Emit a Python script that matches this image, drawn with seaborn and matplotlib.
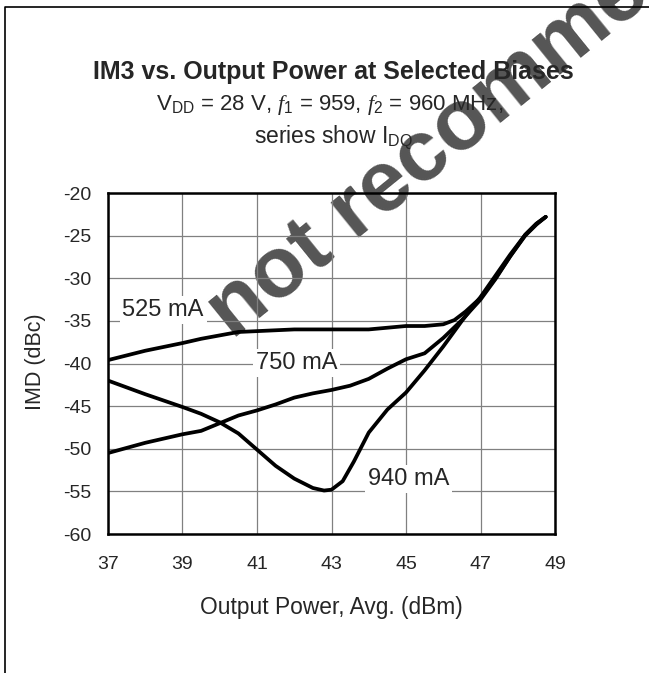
import numpy as np
import pandas as pd
import seaborn as sns
import matplotlib.pyplot as plt
from matplotlib.lines import Line2D

# IMD vs output power, one list per quiescent drain current
pout_525 = [37.0, 38.0, 39.0, 39.5, 40.0, 40.5, 41.0, 42.0, 43.0, 44.0, 44.5, 45.0,
            45.5, 46.0, 46.3, 46.6, 47.0, 47.4, 47.8, 48.2, 48.5, 48.75]
imd_525 = [-39.6, -38.5, -37.6, -37.1, -36.7, -36.3, -36.2, -36.0, -36.0, -36.0, -35.8, -35.6,
           -35.6, -35.4, -34.9, -33.9, -32.3, -30.0, -27.4, -24.9, -23.6, -22.8]

pout_750 = [37.0, 38.0, 39.0, 39.5, 40.0, 40.5, 41.0, 41.5, 42.0, 42.5, 43.0, 43.5,
            44.0, 44.5, 45.0, 45.5, 46.0, 46.5, 47.0, 47.4, 47.8, 48.2, 48.5, 48.75]
imd_750 = [-50.5, -49.3, -48.3, -47.9, -47.0, -46.1, -45.5, -44.8, -44.0, -43.5, -43.1, -42.6,
           -41.8, -40.6, -39.5, -38.8, -37.0, -34.9, -32.5, -30.1, -27.4, -25.0, -23.7, -22.8]

pout_940 = [37.0, 38.0, 39.0, 39.5, 40.0, 40.5, 41.0, 41.5, 42.0, 42.5, 42.8, 43.0, 43.3,
            43.6, 44.0, 44.5, 45.0, 45.5, 46.0, 46.5, 47.0, 47.4, 47.8, 48.2, 48.5, 48.75]
imd_940 = [-42.0, -43.6, -45.1, -45.9, -46.9, -48.2, -50.1, -52.0, -53.5, -54.6, -54.9, -54.8, -53.8,
           -51.5, -48.1, -45.4, -43.4, -40.8, -38.0, -35.0, -32.2, -29.7, -27.2, -24.9, -23.6, -22.8]

series_names = ["525 mA", "750 mA", "940 mA"]
label_x = [38.48, 42.06, 45.07]
label_y = [-33.7, -39.9, -53.55]

x_ticks = [37, 39, 41, 43, 45, 47, 49]
y_ticks = [-60, -55, -50, -45, -40, -35, -30, -25, -20]

df = pd.concat([
    pd.DataFrame({"pout": pout_525, "imd": imd_525, "idq": series_names[0]}),
    pd.DataFrame({"pout": pout_750, "imd": imd_750, "idq": series_names[1]}),
    pd.DataFrame({"pout": pout_940, "imd": imd_940, "idq": series_names[2]}),
])

sns.set_style("white")
plt.rcParams['font.family'] = ['Liberation Sans', 'DejaVu Sans']
plt.rcParams['mathtext.fontset'] = 'custom'
plt.rcParams['mathtext.rm'] = 'Liberation Sans'
plt.rcParams['mathtext.it'] = 'Liberation Serif:italic'

fig = plt.figure(figsize=(6.49, 6.73), dpi=100)
ax = fig.add_axes([0.1664, 0.2065, 0.6888, 0.5067])
ax.set_facecolor('none')

# outer frame of the original figure (runs off the right and bottom)
fig.add_artist(Line2D([5 / 649, 5 / 649, 1.0], [0.0, 1 - 7 / 673, 1 - 7 / 673],
                      transform=fig.transFigure, color='black', lw=1.2))

# datasheet watermark, sitting under the chart
fig.text(232 / 649, 1 - 340 / 673, "not recommended", rotation=39,
         rotation_mode='anchor', ha='left', va='baseline', fontsize=62,
         fontweight='bold', color='#555555', zorder=-1)

sns.lineplot(data=df, x="pout", y="imd", hue="idq", units="idq", estimator=None,
             sort=False, palette=["black"] * 3, linewidth=2.7, legend=False, ax=ax)

ax.set_xlim(37, 49)
ax.set_ylim(-60, -20)
ax.set_xticks(x_ticks)
ax.set_yticks(y_ticks)
ax.set_xticklabels([str(t) for t in x_ticks])
ax.set_yticklabels([str(t) for t in y_ticks])
ax.tick_params(axis='both', length=0, labelsize=14)
ax.tick_params(axis='x', pad=16)
ax.tick_params(axis='y', pad=12)
ax.grid(True, color='#808080', lw=0.9)
for s in ax.spines.values():
    s.set_visible(True)
    s.set_color('black')
    s.set_linewidth(1.8)
ax.set_xlabel("")
ax.set_ylabel("")

for name, lx, ly in zip(series_names, label_x, label_y):
    ax.text(lx, ly, name, ha='center', va='center', fontsize=17, zorder=5,
            bbox=dict(facecolor='white', edgecolor='none', pad=2))

cx = 331.5 / 649
fig.text(333.5 / 649, 1 - 79 / 673, "IM3 vs. Output Power at Selected Biases",
         ha='center', va='baseline', fontsize=18, fontweight='bold')
fig.text(330 / 649, 1 - 110 / 673, r"V$_{\mathrm{DD}}$ = 28 V, $f_1$ = 959, $f_2$ = 960 MHz,",
         ha='center', va='baseline', fontsize=16)
fig.text(333 / 649, 1 - 143 / 673, r"series show I$_{\mathrm{DQ}}$",
         ha='center', va='baseline', fontsize=16.5)
fig.text(cx, 1 - 614 / 673, "Output Power, Avg. (dBm)",
         ha='center', va='baseline', fontsize=16.4)
fig.text(36 / 649, 1 - 362 / 673, "IMD (dBc)", rotation=90,
         ha='center', va='center', fontsize=15.5)

fig.savefig("out.png", dpi=100)
